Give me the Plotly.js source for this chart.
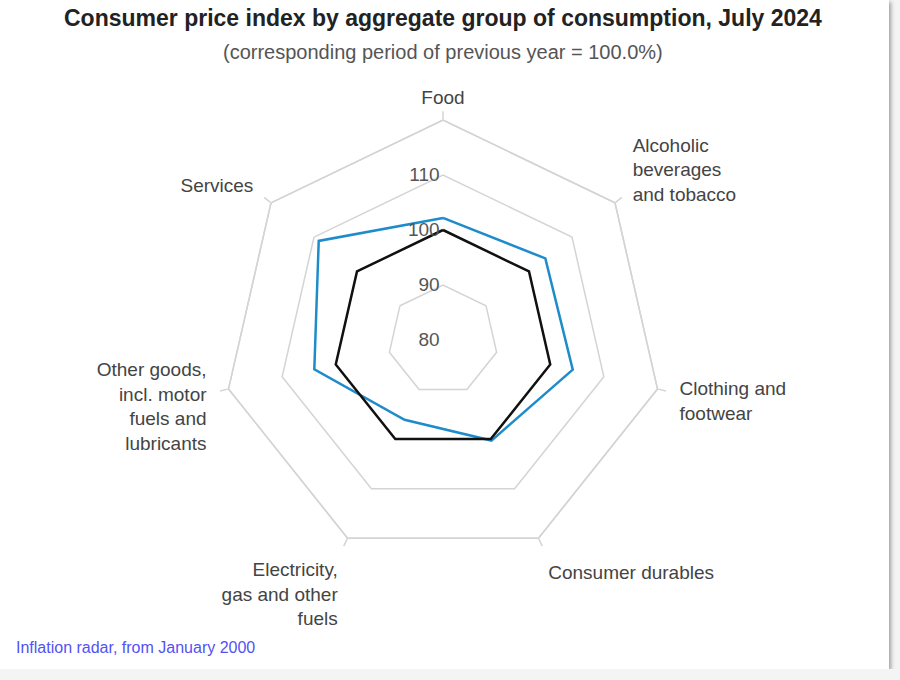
<!DOCTYPE html>
<html>
<head>
<meta charset="utf-8">
<script src="https://cdn.plot.ly/plotly-3.0.1.min.js"></script>
<style>
  body { margin: 0; background: #f4f4f4; }
  #card { width: 889px; height: 669px; background: #fff; box-shadow: 2px 2px 4px rgba(0,0,0,0.35); }
</style>
</head>
<body>
<div id="card"><div id="chart"></div></div>
<script>
const categories = [
    'Food',
    'Alcoholic<br>beverages<br>and tobacco',
    'Clothing and<br>footwear',
    'Consumer durables',
    'Electricity,<br>gas and other<br>fuels',
    'Other goods,<br>incl. motor<br>fuels and<br>lubricants',
    'Services'
];
const july2024 = [102.2, 103.8, 104.2, 100.3, 96.1, 104.0, 108.9];
const baseYear = [100, 100, 100, 100, 100, 100, 100];
const radialTicks = [80, 90, 100, 110];

// close the polygons
const theta = categories.concat([categories[0]]);

const traces = [
    {
        type: 'scatterpolar',
        r: july2024.concat([july2024[0]]),
        theta: theta,
        mode: 'lines',
        line: { color: '#1e8ccb', width: 2.5 },
        hoverinfo: 'skip'
    },
    {
        type: 'scatterpolar',
        r: baseYear.concat([baseYear[0]]),
        theta: theta,
        mode: 'lines',
        line: { color: '#111111', width: 2.5 },
        hoverinfo: 'skip'
    },
    // invisible trace so the second polar (short tick marks + top label) knows the categories
    {
        type: 'scatterpolar',
        subplot: 'polar2',
        r: categories.map(() => null),
        theta: categories,
        mode: 'lines',
        hoverinfo: 'skip'
    }
];

const dom = { x: [223 / 889, 663 / 889], y: [1 - 560 / 669, 1 - 120 / 669] };

const layout = {
    width: 889,
    height: 669,
    margin: { l: 0, r: 0, t: 0, b: 0 },
    paper_bgcolor: '#ffffff',
    showlegend: false,
    font: { family: 'Liberation Sans, Arial, sans-serif', color: '#444' },
    polar: {
        domain: dom,
        gridshape: 'linear',
        bgcolor: '#ffffff',
        radialaxis: {
            range: [80, 120],
            tickvals: radialTicks,
            angle: 90,
            tickangle: 90,
            side: 'counterclockwise',
            showline: false,
            ticks: '',
            gridcolor: '#d4d4d4',
            gridwidth: 1.5,
            tickfont: { size: 19, color: '#555' }
        },
        angularaxis: {
            type: 'category',
            direction: 'clockwise',
            rotation: 90,
            showgrid: false,
            linecolor: '#d4d4d4',
            linewidth: 1.5,
            // side labels here, pushed a bit further out; the top one comes from polar2
            tickmode: 'array',
            tickvals: categories,
            ticktext: categories.map((c, i) => (i === 0 ? '' : c)),
            ticks: 'outside',
            ticklen: 18,
            tickcolor: 'rgba(0,0,0,0)',
            tickfont: { size: 19, color: '#444' }
        }
    },
    polar2: {
        domain: dom,
        gridshape: 'linear',
        bgcolor: 'rgba(0,0,0,0)',
        radialaxis: { range: [80, 120], visible: false },
        angularaxis: {
            type: 'category',
            direction: 'clockwise',
            rotation: 90,
            showgrid: false,
            linecolor: '#d4d4d4',
            linewidth: 1.5,
            tickmode: 'array',
            tickvals: categories,
            ticktext: categories.map((c, i) => (i === 0 ? c : '')),
            ticks: 'outside',
            ticklen: 8,
            tickcolor: '#d4d4d4',
            tickwidth: 1.5,
            tickfont: { size: 19, color: '#444' }
        }
    },
    annotations: [
        {
            text: '<b>Consumer price index by aggregate group of consumption, July 2024</b>',
            x: 443 / 889, y: 1 - 18 / 669, xref: 'paper', yref: 'paper', yanchor: 'middle',
            showarrow: false, font: { size: 23, color: '#222' }
        },
        {
            text: '(corresponding period of previous year = 100.0%)',
            x: 443 / 889, y: 1 - 52 / 669, xref: 'paper', yref: 'paper', yanchor: 'middle',
            showarrow: false, font: { size: 20, color: '#555' }
        },
        {
            text: 'Inflation radar, from January 2000',
            x: 14 / 889, y: 1 - 647 / 669, xref: 'paper', yref: 'paper',
            xanchor: 'left', yanchor: 'middle', showarrow: false, font: { size: 16, color: '#5252f5' }
        }
    ]
};

Plotly.newPlot('chart', traces, layout, { displayModeBar: false, staticPlot: true });
</script>
</body>
</html>
